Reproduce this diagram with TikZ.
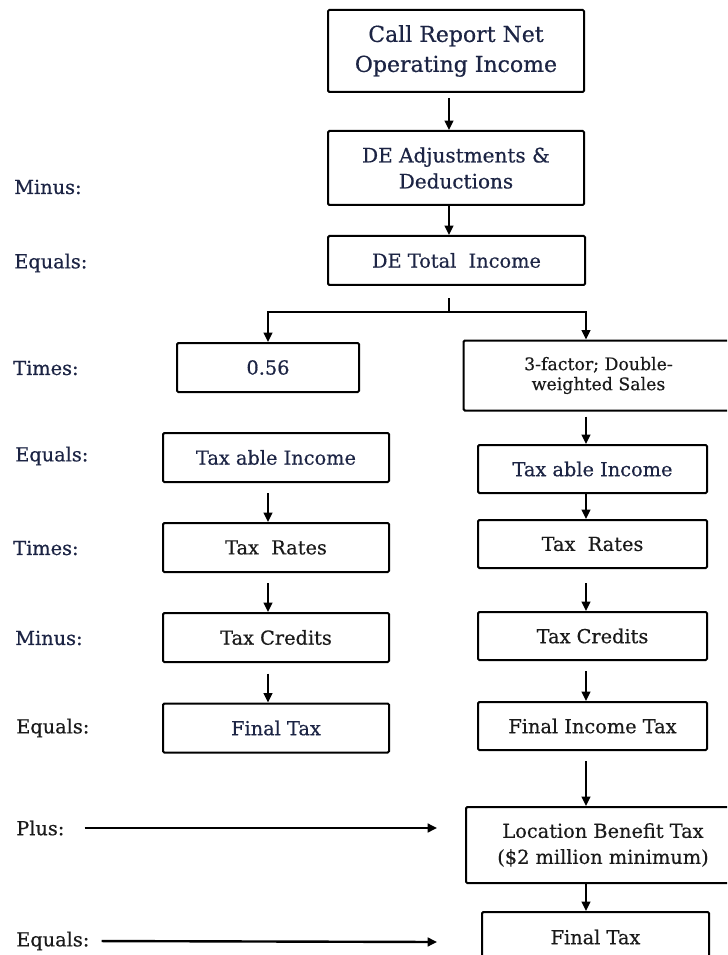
\documentclass[tikz,border=0pt]{standalone}
\usepackage{fontspec}
\setmainfont{DejaVu Serif}
% a slightly heavier cut of the serif face for all labels
\newfontfamily\heavyserif{DejaVu Serif}[FakeBold=0.5]
\usetikzlibrary{arrows.meta}
\definecolor{navy}{HTML}{1C2444}
\definecolor{ink}{HTML}{1A1A1A}

\begin{document}
\begin{tikzpicture}[x=0.75pt,y=-0.75pt,
  box/.style={draw=black, line width=1.5pt, rounded corners=1pt, inner sep=0pt,
    align=center, text=navy, font=\heavyserif\fontsize{14.5}{19.5}\selectfont},
  sz/.style 2 args={minimum width=#1*0.75pt, minimum height=#2*0.75pt},
  lbl/.style={anchor=west, inner sep=0pt, text=navy, font=\heavyserif\fontsize{14.5}{18}\selectfont},
  arr/.style={line width=1.5pt, -{Triangle[length=7pt,width=6.5pt]}},
  ln/.style={line width=1.5pt}]

\useasboundingbox (0,0) rectangle (727,955);
\clip (0,0) rectangle (727,955);

% centre column
\node[box, sz={256}{82}, font=\heavyserif\fontsize{16.5}{22.5}\selectfont] (b1) at (456,51) {Call Report Net\\Operating Income};
\node[box, sz={256}{74}, font=\heavyserif\fontsize{15}{19.5}\selectfont] (b2) at (456,168) {DE Adjustments \&\\Deductions};
\node[box, sz={257}{49}] (b3) at (456.5,260.5) {DE Total\ \ Income};

% left column
\node[box, sz={182}{49}] (l1) at (268,367.5) {\oldstylenums{0.56}};
\node[box, sz={226}{49}] (l2) at (276,457.5) {Tax able Income};
\node[box, sz={226}{49}, text=ink] (l3) at (276,547.5) {Tax\ \ Rates};
\node[box, sz={226}{49}, text=ink] (l4) at (276,637.5) {Tax Credits};
\node[box, sz={226}{49}] (l5) at (276,728) {Final Tax};

% right column
\node[box, sz={270}{70}, text=ink, font=\heavyserif\fontsize{13}{15}\selectfont] (r1) at (598.5,375.5) {\oldstylenums{3}-factor; Double-\\weighted Sales};
\node[box, sz={229}{48}] (r2) at (592.5,469) {Tax able Income};
\node[box, sz={229}{48}, text=ink] (r3) at (592.5,544) {Tax\ \ Rates};
\node[box, sz={229}{48}, text=ink] (r4) at (592.5,636) {Tax Credits};
\node[box, sz={229}{48}, text=ink] (r5) at (592.5,726) {Final Income Tax};
\node[box, sz={274}{76}, text=ink] (r6) at (603,845) {Location Benefit Tax\\(\$\oldstylenums{2} million minimum)};
\node[box, sz={227}{50}, text=ink] (r7) at (595.5,937) {Final Tax};

% row labels
\node[lbl] (m1) at (14,187) {Minus:};
\node[lbl] (e1) at (14,263) {Equals:};
\node[lbl] (t1) at (13,368) {Times:};
\node[lbl] (e2) at (15,456) {Equals:};
\node[lbl] (t2) at (13,548) {Times:};
\node[lbl] (m2) at (15,638) {Minus:};
\node[lbl, text=ink] (e3) at (16,728) {Equals:};
\node[lbl, text=ink] (p1) at (16,828) {Plus:};
\node[lbl, text=ink] (e4) at (16,941) {Equals:};

% arrow columns
\coordinate (cx) at (449,0);
\coordinate (lx) at (268,0);
\coordinate (rx) at (586,0);
\coordinate (fk) at (449,312);
\coordinate (pe) at (437,828);
\coordinate (ee) at (437,942);

\draw[arr, shorten <=3.75pt] (b1.south -| cx) -- (b2.north -| cx);
\draw[arr] (b2.south -| cx) -- (b3.north -| cx);
\draw[ln, shorten <=9pt] (b3.south -| cx) -- (fk);
\draw[ln, {Triangle[length=7pt,width=6.5pt]}-{Triangle[length=7pt,width=6.5pt]}]
  (l1.north -| lx) |- (fk) -| (r1.north -| rx);

\draw[arr, shorten <=3.75pt] (r1.south -| rx) -- (r2.north -| rx);
\draw[arr] (r2.south -| rx) -- (r3.north -| rx);
\draw[arr, shorten <=10.5pt] (r3.south -| rx) -- (r4.north -| rx);
\draw[arr, shorten <=7.5pt] (r4.south -| rx) -- (r5.north -| rx);
\draw[arr, shorten <=7.5pt] (r5.south -| rx) -- (r6.north -| rx);
\draw[arr] (r6.south -| rx) -- (r7.north -| rx);

\draw[arr, shorten <=7.5pt] (l2.south -| lx) -- (l3.north -| lx);
\draw[arr, shorten <=7.5pt] (l3.south -| lx) -- (l4.north -| lx);
\draw[arr, shorten <=8pt] (l4.south -| lx) -- (l5.north -| lx);

\draw[arr, line width=1.8pt, shorten <=15pt] (p1.east) -- (pe);
\draw[arr, line width=1.8pt, shorten <=9pt] (e4.east) -- (ee);
\end{tikzpicture}
\end{document}
